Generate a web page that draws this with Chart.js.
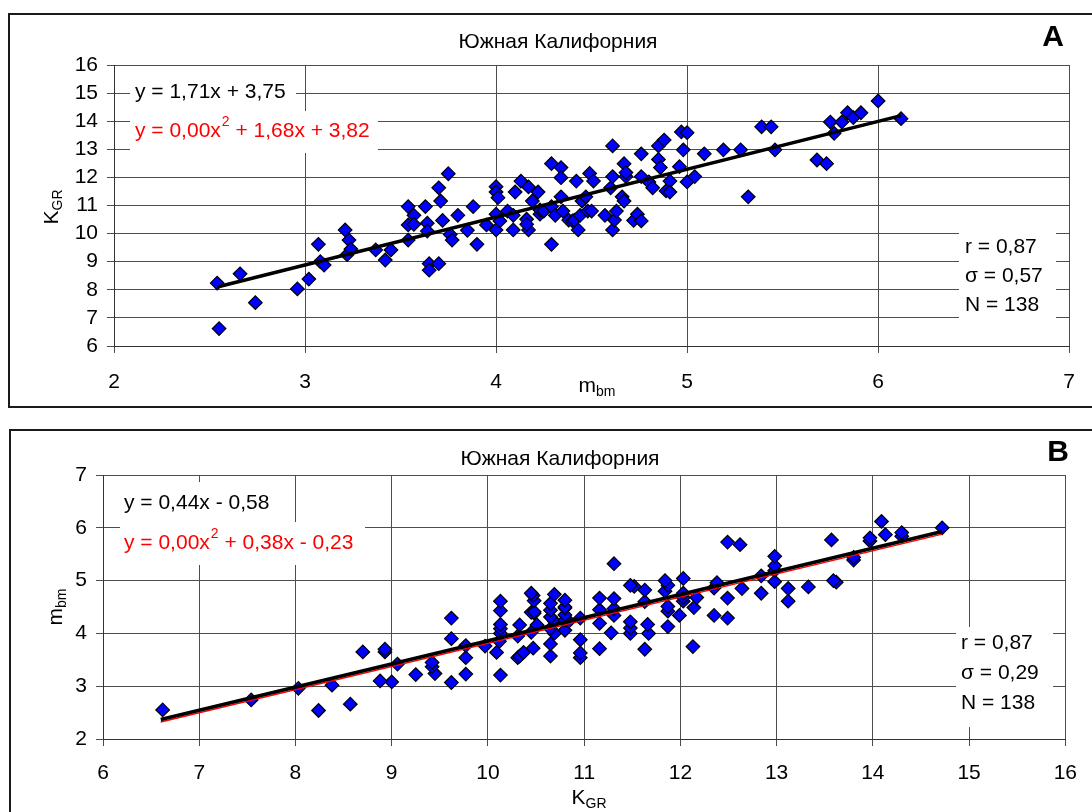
<!DOCTYPE html>
<html>
<head>
<meta charset="utf-8">
<script src="https://cdn.jsdelivr.net/npm/chart.js@4.4.1/dist/chart.umd.min.js"></script>
<style>
  html, body { margin: 0; padding: 0; background: #fff; }
  canvas { position: absolute; left: 0; }
  #chartA { top: 0; }
  #chartB { top: 410px; }
</style>
</head>
<body>
<canvas id="chartA" width="1092" height="410"></canvas>
<canvas id="chartB" width="1092" height="402"></canvas>
<script>
// magnitudes mbm and energy class KGR for the 138 events
const mbm = [2.54, 2.55, 2.66, 2.74, 2.96, 3.02, 3.07, 3.08, 3.10, 3.21, 3.23, 3.22, 3.24, 3.37, 3.42,
  3.45, 3.54, 3.54, 3.54, 3.57, 3.57, 3.63, 3.64, 3.64, 3.65, 3.65, 3.70, 3.71, 3.72, 3.70,
  3.75, 3.76, 3.77, 3.80, 3.85, 3.88, 3.90, 3.95, 4.00, 4.00, 4.01, 4.00, 4.00, 4.02, 4.06,
  4.09, 4.09, 4.10, 4.13, 4.17, 4.16, 4.17, 4.16, 4.19, 4.22, 4.23,
  4.23, 4.25, 4.29, 4.29, 4.29, 4.31, 4.34, 4.34, 4.34, 4.35, 4.38, 4.40, 4.41, 4.42, 4.43,
  4.44, 4.45, 4.47, 4.48, 4.49, 4.50, 4.51, 4.57, 4.60, 4.61, 4.61, 4.61, 4.62, 4.63, 4.66,
  4.67, 4.67, 4.68, 4.68, 4.72, 4.74, 4.76, 4.76, 4.76, 4.80, 4.82, 4.85, 4.85, 4.86, 4.88,
  4.89, 4.91, 4.91, 4.96, 4.97, 4.98, 5.00, 5.00, 5.04, 5.09, 5.19, 5.28, 5.32, 5.39, 5.44,
  5.46, 5.68, 5.73, 5.75, 5.77, 5.81, 5.84, 5.87, 5.91, 6.00, 6.12];
const kgr = [8.24, 6.62, 8.57, 7.54, 8.03, 8.38, 9.62, 9.00, 8.88, 10.13, 9.77, 9.25, 9.45, 9.42, 9.06,
  9.42, 10.96, 10.31, 9.77, 10.65, 10.33, 10.96, 10.37, 10.09, 8.93, 8.70, 11.63, 11.16, 10.47, 8.93,
  12.13, 9.97, 9.77, 10.65, 10.12, 10.96, 9.62, 10.31, 11.67, 11.48, 11.28, 10.69, 10.13, 10.45, 10.80,
  10.65, 10.13, 11.48, 11.87, 11.66, 10.51, 10.13, 10.33, 11.16, 11.48, 10.69,
  10.84, 10.80, 12.49, 9.62, 10.96, 10.65, 12.35, 11.99, 11.31, 10.80, 10.48, 10.45, 10.48, 11.87, 10.13,
  10.65, 11.16, 11.31, 10.80, 12.14, 10.80, 11.87, 10.65, 11.63, 10.13, 13.12, 12.03, 10.48, 10.80, 11.31,
  12.49, 11.16, 12.03, 12.17, 10.47, 10.69, 10.45, 12.84, 12.03, 11.84, 11.63, 13.12, 12.64, 12.35, 13.33,
  11.52, 11.87, 11.48, 12.38, 13.62, 12.98, 13.59, 11.84, 12.03, 12.84, 12.98, 12.98, 11.31, 13.80, 13.80,
  12.98, 12.62, 12.49, 13.97, 13.57, 13.97, 14.30, 14.13, 14.30, 14.72, 14.09];

// trend line ends as drawn
const fitA_x = [2.54, 6.12];
const fitA_lin = [8.10, 14.20];
const fitA_poly = [8.08, 14.18];
const fitB_x = [6.60, 14.72];
const fitB_lin = [2.37, 5.93];
const fitB_poly = [2.32, 5.88];

const titleText = "Южная Калифорния";
const statsA = ["r = 0,87", "σ = 0,57", "N = 138"];
const statsB = ["r = 0,87", "σ = 0,29", "N = 138"];
const eqA = ["y = 1,71x + 3,75", ["y = 0,00x", "2", " + 1,68x + 3,82"]];
const eqB = ["y = 0,44x - 0,58", ["y = 0,00x", "2", " + 0,38x - 0,23"]];

const FONT = '"Liberation Sans", Arial, sans-serif';
const FS = 21;

function pts(xs, ys) {
  return xs.map((x, i) => ({ x: x, y: ys[i] }));
}

function subText(ctx, base, sub, x, y, size) {
  // x = centre, y = middle of the base letter
  ctx.font = size + "px " + FONT;
  const w1 = ctx.measureText(base).width;
  ctx.font = Math.round(size * 0.68) + "px " + FONT;
  const w2 = ctx.measureText(sub).width;
  const left = x - (w1 + w2) / 2;
  ctx.textAlign = "left";
  ctx.textBaseline = "middle";
  ctx.font = size + "px " + FONT;
  ctx.fillText(base, left, y);
  ctx.font = Math.round(size * 0.68) + "px " + FONT;
  ctx.fillText(sub, left + w1, y + size * 0.3);
}

const annot = {
  id: "annot",
  beforeDraw(chart, args, o) {
    const ctx = chart.ctx;
    ctx.save();
    ctx.fillStyle = "#fff";
    ctx.fillRect(0, 0, chart.width, chart.height);
    ctx.strokeStyle = "#1a1a1a";
    ctx.lineWidth = 2;
    ctx.strokeRect(o.frame[0], o.frame[1], o.frame[2], o.frame[3]);
    ctx.restore();
  },
  afterDraw(chart, args, o) {
    const ctx = chart.ctx;
    ctx.save();
    ctx.fillStyle = "#000";
    ctx.textAlign = "center";
    ctx.textBaseline = "middle";
    ctx.font = FS + "px " + FONT;
    ctx.fillText(titleText, o.title[0], o.title[1]);
    ctx.font = "bold 30px " + FONT;
    ctx.fillText(o.letter, o.letterPos[0], o.letterPos[1]);

    // axis titles
    subText(ctx, o.xTitle[0], o.xTitle[1], o.xTitlePos[0], o.xTitlePos[1], FS);
    ctx.save();
    ctx.translate(o.yTitlePos[0], o.yTitlePos[1]);
    ctx.rotate(-Math.PI / 2);
    subText(ctx, o.yTitle[0], o.yTitle[1], 0, 0, FS);
    ctx.restore();

    // equation boxes
    ctx.fillStyle = "#fff";
    o.eqBoxes.forEach(b => ctx.fillRect(b[0], b[1], b[2], b[3]));
    ctx.textAlign = "left";
    ctx.fillStyle = "#000";
    ctx.font = FS + "px " + FONT;
    ctx.fillText(o.eq[0], o.eqPos[0], o.eqPos[1]);
    ctx.fillStyle = "#ff0000";
    let x = o.eqPos[0];
    const y2 = o.eqPos[2];
    ctx.fillText(o.eq[1][0], x, y2);
    x += ctx.measureText(o.eq[1][0]).width;
    ctx.font = "14px " + FONT;
    ctx.fillText(o.eq[1][1], x + 1, y2 - 9);
    x += ctx.measureText(o.eq[1][1]).width + 1;
    ctx.font = FS + "px " + FONT;
    ctx.fillText(o.eq[1][2], x, y2);

    // statistics box
    ctx.fillStyle = "#fff";
    ctx.fillRect(o.statBox[0], o.statBox[1], o.statBox[2], o.statBox[3]);
    ctx.fillStyle = "#000";
    o.stats.forEach((s, i) => ctx.fillText(s, o.statPos[0], o.statPos[1] + i * o.statPos[2]));
    ctx.restore();
  }
};

function axis(min, max, pad, size) {
  return {
    type: "linear",
    min: min,
    max: max,
    afterFit: size,
    ticks: { stepSize: 1, autoSkip: false, maxRotation: 0, color: "#000", padding: pad,
      font: { family: FONT, size: FS } },
    grid: { color: "#4d4d4d", lineWidth: 1, tickLength: 7 },
    border: { color: "#333", width: 1 }
  };
}

function makeChart(id, xs, ys, fx, flin, fpoly, sc, ann) {
  return new Chart(document.getElementById(id), {
    type: "scatter",
    data: {
      datasets: [
        { type: "line", data: pts(fx, flin), borderColor: "#000", borderWidth: 3.5,
          pointRadius: 0, fill: false, order: 0 },
        { type: "line", data: pts(fx, fpoly), borderColor: "#ff0000", borderWidth: 1.5,
          pointRadius: 0, fill: false, order: 1 },
        { data: pts(xs, ys), pointStyle: "rectRot", pointRadius: 6.8, pointHoverRadius: 6.8,
          backgroundColor: "#0000ff", borderColor: "#000", borderWidth: 1.2, order: 2 }
      ]
    },
    options: {
      responsive: false,
      animation: false,
      devicePixelRatio: 1,
      layout: { padding: { left: 0, top: 65, right: sc.right, bottom: 0 } },
      plugins: { legend: { display: false }, tooltip: { enabled: false }, annot: ann },
      scales: {
        x: axis(sc.xMin, sc.xMax, sc.xPad, s => { s.height = sc.xH; }),
        y: axis(sc.yMin, sc.yMax, 9, s => { s.width = sc.yW; })
      }
    },
    plugins: [annot]
  });
}

makeChart("chartA", mbm, kgr, fitA_x, fitA_lin, fitA_poly,
  { xMin: 2, xMax: 7, yMin: 6, yMax: 16, right: 13, xH: 64, yW: 114, xPad: 17 },
  {
    frame: [9, 14, 1100, 393],
    title: [558, 42], letter: "A", letterPos: [1053, 38],
    xTitle: ["m", "bm"], xTitlePos: [597, 386],
    yTitle: ["K", "GR"], yTitlePos: [52, 207],
    eq: eqA, eqPos: [135, 92, 131],
    eqBoxes: [[130, 79, 166, 27], [130, 111, 248, 42]],
    stats: statsA, statPos: [965, 247, 29], statBox: [959, 230, 97, 90]
  });

makeChart("chartB", kgr, mbm, fitB_x, fitB_lin, fitB_poly,
  { xMin: 6, xMax: 16, yMin: 2, yMax: 7, right: 19, xH: 73, yW: 103, xPad: 15 },
  {
    frame: [10, 20, 1100, 500],
    title: [560, 49], letter: "B", letterPos: [1058, 43],
    xTitle: ["K", "GR"], xTitlePos: [589, 388],
    yTitle: ["m", "bm"], yTitlePos: [56, 197],
    eq: eqB, eqPos: [124, 93, 133],
    eqBoxes: [[120, 72, 160, 40], [120, 112, 245, 43]],
    stats: statsB, statPos: [961, 233, 30], statBox: [956, 217, 97, 100]
  });
</script>
</body>
</html>
